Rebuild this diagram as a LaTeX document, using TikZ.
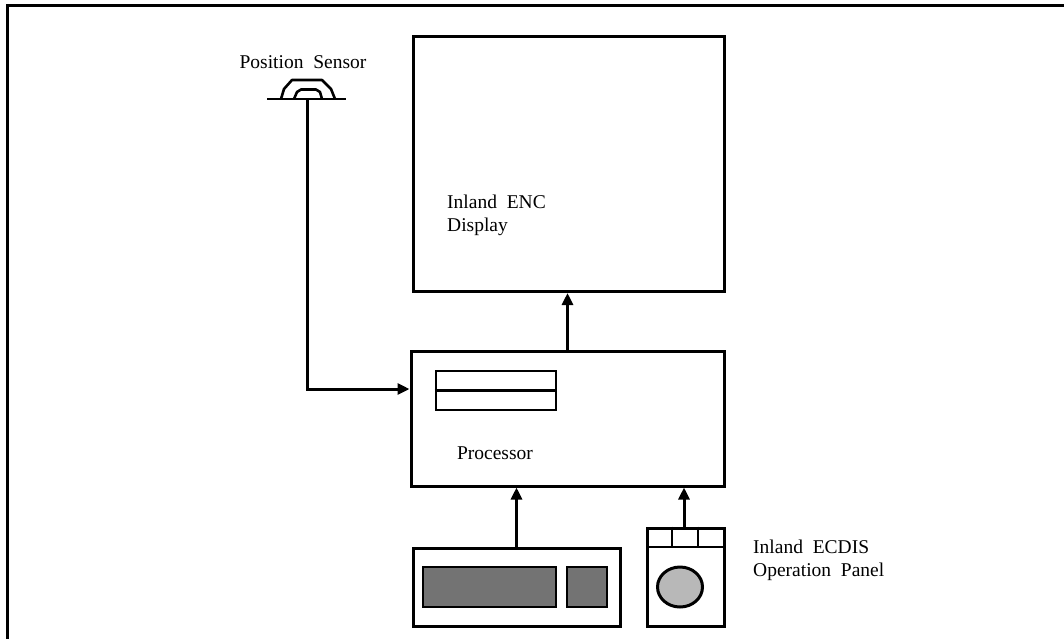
\documentclass[tikz,border=0pt]{standalone}
\usepackage{fontspec}
\setmainfont{Liberation Serif}
\usetikzlibrary{arrows.meta,shapes.geometric}
\begin{document}
\begin{tikzpicture}[x=1pt,y=-1pt,
  box/.style={draw,line width=3pt,rectangle,inner sep=0pt,minimum width=#1},
  arr/.style={line width=3pt,-{Triangle[length=12pt,width=11pt]}},
  lbl/.style={font=\fontsize{19.5}{23}\selectfont,inner sep=0pt,align=left},
  key/.style={draw,line width=2.6pt,fill=black!55,inner sep=0pt}]
\useasboundingbox (0,0) rectangle (1064,638);
% frame
\draw[line width=3pt] (7,660) -- (7,5) -- (1080,5);
% display
\node[box=311, minimum height=255] (disp) at (568.5,164) {};
\node[lbl,anchor=base west] (displbl) at (447,231) {Inland\ \ ENC\\Display};
% processor
\node[box=313, minimum height=135] (proc) at (567.5,418.5) {};
\node[box=120, minimum height=39, line width=2.6pt] (slot) at (496,390.5) {};
\draw[line width=2.6pt] (slot.west) -- (slot.east);
\node[lbl,anchor=base] (proclbl) at (495,459) {Processor};
% keyboard
\node[box=207, minimum height=78] (kbd) at (516.5,587) {};
\node[key,minimum width=133,minimum height=40] (keys) at (489.5,587) {};
\node[key,minimum width=40,minimum height=40] (pad) at (587,587) {};
% operation panel
\node[box=77, minimum height=98] (panel) at (685.5,577) {};
\coordinate (rowL) at (647,547);
\draw[line width=2.6pt] (rowL) -- (rowL -| panel.east);
\draw[line width=2.6pt] (672,0 |- panel.north) -- (672,547);
\draw[line width=2.6pt] (698,0 |- panel.north) -- (698,547);
\node[draw,line width=3pt,ellipse,fill=black!28,minimum width=45,minimum height=40,inner sep=0pt] (ball) at (680,587) {};
\node[lbl,anchor=base west] (panellbl) at (753,576) {Inland\ \ ECDIS\\Operation\ \ Panel};
% position sensor
\node[lbl,anchor=base] (senslbl) at (303,68) {Position\ \ Sensor};
\coordinate (sensor) at (307,99);
\draw[line width=2.6pt] (267,99) -- (346,99);
\draw[line width=2.6pt,line join=round] (281,99) -- (284,89) -- (292,80) -- (322,80) -- (331,89) -- (335,99);
\draw[line width=2.6pt,line join=round] (294,99) -- (297,92) -- (301,89.5) -- (316,89.5) -- (320,92) -- (322,99);
% connectors
\draw[arr] (sensor) |- ([yshift=29.5pt]proc.west);
\draw[arr] (proc.north) -- (proc.north |- disp.south);
\draw[arr] (kbd.north) -- (kbd.north |- proc.south);
\draw[arr] ([xshift=-1.5pt]panel.north) -- ([xshift=-1.5pt]panel.north |- proc.south);
\end{tikzpicture}
\end{document}
